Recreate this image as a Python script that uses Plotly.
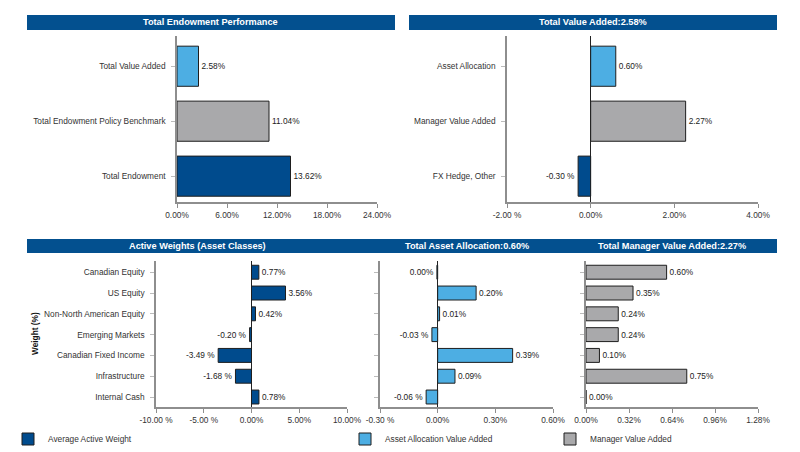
import plotly.graph_objects as go

# ---------------- data ----------------
perf_cats = ["Total Endowment", "Total Endowment Policy Benchmark", "Total Value Added"]
perf_vals = [13.62, 11.04, 2.58]

tva_cats = ["FX Hedge, Other", "Manager Value Added", "Asset Allocation"]
tva_vals = [-0.30, 2.27, 0.60]

asset_classes = ["Canadian Equity", "US Equity", "Non-North American Equity",
                 "Emerging Markets", "Canadian Fixed Income", "Infrastructure",
                 "Internal Cash"]
active_weights = [0.77, 3.56, 0.42, -0.20, -3.49, -1.68, 0.78]
alloc_added = [-0.004, 0.20, 0.01, -0.03, 0.39, 0.09, -0.06]
manager_added = [0.60, 0.35, 0.24, 0.24, 0.10, 0.75, 0.00]

perf_ticks = [0, 6, 12, 18, 24]
tva_ticks = [-2, 0, 2, 4]
aw_ticks = [-10, -5, 0, 5, 10]
aa_ticks = [-0.30, 0.0, 0.30, 0.60]
mv_ticks = [0.0, 0.32, 0.64, 0.96, 1.28]

titles = ["Total Endowment Performance", "Total Value Added:2.58%",
          "Active Weights (Asset Classes)", "Total Asset Allocation:0.60%",
          "Total Manager Value Added:2.27%"]
legend_names = ["Average Active Weight", "Asset Allocation Value Added",
                "Manager Value Added"]

# ---------------- styles ----------------
W, H = 800, 452
OFF = 8  # page body margin
FONT = "Liberation Sans, Arial, sans-serif"
FS = 8.3
HEADER = "#03508F"
DARK = "#004B8D"
LIGHT = "#4DAEE3"
GRAY = "#A9A9AB"
AXIS = "#8E8E8E"
OUTLINE = "#1E1E1E"


def fmt(v):
    s = f"{v:.2f}"
    if s == "-0.00":
        s = "0.00"
    return s + (" %" if v <= -0.005 else "%")


def px_x(p):
    return (p - OFF) / W


def px_y(p):
    return 1 - (p - OFF) / H


fig = go.Figure()

def add_bar(x, y, colors, xa, ya, width, name=None, legend=None, showlegend=False):
    fig.add_trace(go.Bar(
        x=x, y=y, orientation="h", width=width,
        marker=dict(color=colors, line=dict(color=OUTLINE, width=1)),
        text=[fmt(v) for v in x], textposition="outside",
        textfont=dict(family=FONT, size=FS, color="#222222"),
        constraintext="none", cliponaxis=False,
        xaxis=xa, yaxis=ya, name=name, showlegend=showlegend,
        legend=legend, hoverinfo="x+y",
    ))

add_bar(perf_vals, perf_cats, [DARK, GRAY, LIGHT], "x", "y", 0.73)
add_bar(tva_vals, tva_cats, [DARK, GRAY, LIGHT], "x2", "y2", 0.73)
add_bar(active_weights, asset_classes, DARK, "x3", "y3", 0.67,
        name=legend_names[0], legend="legend", showlegend=True)
add_bar(alloc_added, asset_classes, LIGHT, "x4", "y4", 0.67,
        name=legend_names[1], legend="legend2", showlegend=True)
add_bar(manager_added, asset_classes, GRAY, "x5", "y5", 0.67,
        name=legend_names[2], legend="legend3", showlegend=True)


def tick_text(vals):
    return [fmt(v) for v in vals]


def xaxis(domain, rng, ticks, anchor, zeroline):
    return dict(domain=domain, range=rng, anchor=anchor,
                tickvals=ticks, ticktext=tick_text(ticks),
                showline=True, linecolor=AXIS, linewidth=1.5,
                ticks="outside", ticklen=4, tickcolor=AXIS, tickwidth=1,
                showgrid=False, zeroline=zeroline, zerolinecolor="#222222",
                zerolinewidth=1, fixedrange=True, automargin=False,
                tickfont=dict(family=FONT, size=FS, color="#333333"))


def yaxis(domain, rng, cats, anchor, labels=True):
    return dict(domain=domain, range=rng, anchor=anchor, type="category",
                categoryorder="array", categoryarray=cats,
                showline=True, linecolor=AXIS, linewidth=1.5,
                ticks="outside", ticklen=4, tickcolor="#BBBBBB", tickwidth=1,
                showgrid=False, zeroline=False, showticklabels=labels,
                ticklabelstandoff=4, fixedrange=True, automargin=False,
                tickfont=dict(family=FONT, size=FS, color="#333333"))


top_y = [px_y(202), px_y(36)]
bot_y = [px_y(407), px_y(261)]
rev_classes = list(reversed(asset_classes))

fig.update_layout(
    width=W, height=H,
    margin=dict(l=0, r=0, t=0, b=0, pad=0, autoexpand=False),
    paper_bgcolor="white", plot_bgcolor="white",
    font=dict(family=FONT, size=FS, color="#333333"),
    xaxis=xaxis([px_x(177), px_x(377)], [0, 24], perf_ticks, "y", False),
    yaxis=yaxis(top_y, [-0.47, 2.55], perf_cats, "x"),
    xaxis2=xaxis([px_x(507), px_x(758)], [-2, 4], tva_ticks, "y2", True),
    yaxis2=yaxis(top_y, [-0.47, 2.55], tva_cats, "x2"),
    xaxis3=xaxis([px_x(156), px_x(347)], [-10, 10], aw_ticks, "y3", True),
    yaxis3=yaxis(bot_y, [-0.48, 6.54], rev_classes, "x3"),
    xaxis4=xaxis([px_x(380), px_x(553)], [-0.30, 0.60], aa_ticks, "y4", True),
    yaxis4=yaxis(bot_y, [-0.48, 6.54], rev_classes, "x4", labels=False),
    xaxis5=xaxis([px_x(586), px_x(758)], [0, 1.28], mv_ticks, "y5", False),
    yaxis5=yaxis(bot_y, [-0.48, 6.54], rev_classes, "x5", labels=False),
)

# ---------------- header bars ----------------
def header(x0, x1, y0, y1):
    fig.add_shape(type="rect", xref="paper", yref="paper",
                  x0=px_x(x0), x1=px_x(x1), y0=px_y(y1), y1=px_y(y0),
                  fillcolor=HEADER, line=dict(width=0), layer="below")


def header_text(cx, cy, text):
    fig.add_annotation(xref="paper", yref="paper", x=px_x(cx), y=px_y(cy),
                       text="<b>" + text + "</b>", showarrow=False,
                       font=dict(family=FONT, size=9.2, color="white"),
                       xanchor="center", yanchor="middle")


header(27, 395, 15, 30)
header(409, 777, 15, 30)
header(27, 777, 239, 253)
header_text(211, 22.5, titles[0])
header_text(593, 22.5, titles[1])
header_text(197, 246, titles[2])
header_text(467, 246, titles[3])
header_text(672, 246, titles[4])

# y-axis title of the active weights panel
fig.add_annotation(xref="paper", yref="paper", x=px_x(35), y=px_y(334),
                   text="<b>Weight (%)</b>", showarrow=False, textangle=-90,
                   font=dict(family=FONT, size=FS, color="#111111"),
                   xanchor="center", yanchor="middle")

# ---------------- legends ----------------
leg_common = dict(orientation="h", yanchor="middle", xanchor="left",
                  font=dict(family=FONT, size=FS, color="#333333"),
                  bgcolor="rgba(0,0,0,0)", itemwidth=30, tracegroupgap=0)
fig.update_layout(
    legend=dict(x=px_x(8), y=px_y(439), **leg_common),
    legend2=dict(x=px_x(345), y=px_y(439), **leg_common),
    legend3=dict(x=px_x(550), y=px_y(439), **leg_common),
)

fig.write_html("out.html")
